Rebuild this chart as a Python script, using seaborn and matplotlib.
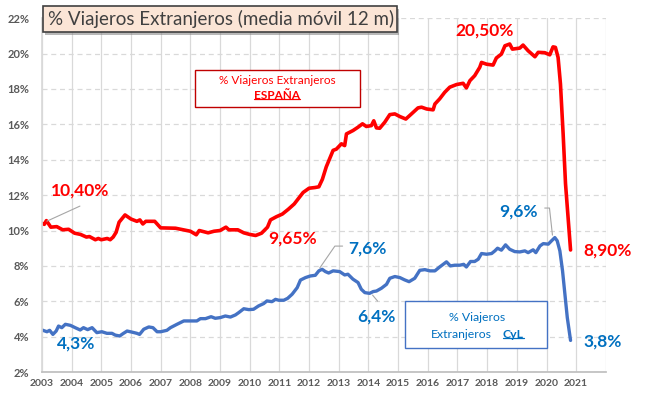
import matplotlib
matplotlib.use("Agg")
import matplotlib.pyplot as plt
from matplotlib.patches import Rectangle
from matplotlib.lines import Line2D
import seaborn as sns

# Spain (% foreign travellers, 12 month moving average)
esp_t = [2003.0, 2003.08, 2003.15, 2003.3, 2003.5, 2003.7, 2003.9, 2004.1, 2004.3, 2004.5,
         2004.6, 2004.8, 2004.9, 2005.0, 2005.2, 2005.3, 2005.4, 2005.5, 2005.6, 2005.8,
         2006.0, 2006.2, 2006.3, 2006.4, 2006.5, 2006.8, 2007.0, 2007.5, 2008.0, 2008.2,
         2008.3, 2008.6, 2008.8, 2009.0, 2009.2, 2009.3, 2009.6, 2009.8, 2010.0, 2010.2,
         2010.4, 2010.6, 2010.7, 2010.9, 2011.1, 2011.3, 2011.5, 2011.8, 2012.0, 2012.2,
         2012.33, 2012.45, 2012.58, 2012.81, 2012.92, 2013.09, 2013.2, 2013.26, 2013.48, 2013.65,
         2013.8, 2013.93, 2014.1, 2014.18, 2014.27, 2014.38, 2014.55, 2014.72, 2014.89, 2015.06,
         2015.26, 2015.45, 2015.67, 2015.79, 2015.96, 2016.18, 2016.24, 2016.4, 2016.57, 2016.74,
         2016.97, 2017.19, 2017.3, 2017.42, 2017.58, 2017.75, 2017.81, 2017.98, 2018.2, 2018.31,
         2018.48, 2018.6, 2018.76, 2018.85, 2019.1, 2019.21, 2019.38, 2019.61, 2019.72, 2019.94,
         2020.11, 2020.22, 2020.3, 2020.39, 2020.47, 2020.56, 2020.64, 2020.81]
esp_v = [10.41, 10.35, 10.56, 10.19, 10.22, 10.04, 10.07, 9.85, 9.78, 9.63,
         9.66, 9.48, 9.55, 9.48, 9.55, 9.48, 9.63, 9.9, 10.47, 10.88,
         10.65, 10.52, 10.6, 10.37, 10.52, 10.52, 10.15, 10.13, 9.96, 9.76,
         10.0, 9.87, 9.96, 10.0, 10.19, 10.04, 10.04, 9.87, 9.78, 9.72,
         9.85, 10.19, 10.6, 10.78, 10.93, 11.2, 11.5, 12.15, 12.39, 12.43,
         12.47, 12.9, 13.6, 14.53, 14.6, 14.9, 14.8, 15.46, 15.65, 15.84,
         16.03, 15.88, 15.93, 16.2, 15.8, 15.78, 16.12, 16.55, 16.59, 16.44,
         16.3, 16.59, 16.93, 16.97, 16.87, 16.82, 17.15, 17.44, 17.81, 18.1,
         18.25, 18.32, 18.06, 18.47, 18.75, 19.22, 19.5, 19.4, 19.35, 19.75,
         19.97, 20.44, 20.54, 20.25, 20.31, 20.48, 20.16, 19.82, 20.07, 20.05,
         19.93, 20.38, 20.35, 19.78, 18.28, 15.46, 12.65, 8.9]

# Castilla y León
cyl_t = [2003.0, 2003.17, 2003.26, 2003.37, 2003.48, 2003.56, 2003.67, 2003.79, 2003.96, 2004.12,
         2004.29, 2004.4, 2004.54, 2004.69, 2004.85, 2005.02, 2005.19, 2005.36, 2005.47, 2005.62,
         2005.73, 2005.87, 2006.03, 2006.2, 2006.29, 2006.43, 2006.6, 2006.74, 2006.88, 2007.0,
         2007.21, 2007.33, 2007.55, 2007.78, 2008.0, 2008.22, 2008.34, 2008.51, 2008.7, 2008.84,
         2009.01, 2009.18, 2009.35, 2009.52, 2009.63, 2009.8, 2009.97, 2010.13, 2010.3, 2010.47,
         2010.58, 2010.75, 2010.87, 2010.98, 2011.15, 2011.28, 2011.43, 2011.6, 2011.71, 2011.88,
         2012.04, 2012.21, 2012.33, 2012.44, 2012.55, 2012.66, 2012.81, 2013.03, 2013.2, 2013.31,
         2013.48, 2013.65, 2013.76, 2013.88, 2014.04, 2014.16, 2014.27, 2014.44, 2014.61, 2014.72,
         2014.89, 2015.06, 2015.22, 2015.37, 2015.56, 2015.73, 2015.9, 2016.07, 2016.24, 2016.4,
         2016.52, 2016.63, 2016.76, 2016.91, 2017.08, 2017.21, 2017.3, 2017.44, 2017.58, 2017.7,
         2017.81, 2017.98, 2018.15, 2018.26, 2018.35, 2018.48, 2018.62, 2018.76, 2018.93, 2019.1,
         2019.27, 2019.38, 2019.55, 2019.64, 2019.78, 2019.89, 2020.06, 2020.17, 2020.28, 2020.36,
         2020.45, 2020.54, 2020.62, 2020.7, 2020.81]
cyl_v = [4.38, 4.28, 4.36, 4.13, 4.32, 4.6, 4.51, 4.7, 4.64, 4.51,
         4.38, 4.51, 4.4, 4.51, 4.23, 4.28, 4.19, 4.19, 4.09, 4.04,
         4.17, 4.32, 4.26, 4.19, 4.13, 4.42, 4.55, 4.51, 4.28, 4.28,
         4.36, 4.51, 4.7, 4.89, 4.89, 4.89, 5.02, 5.02, 5.13, 5.04,
         5.08, 5.17, 5.11, 5.23, 5.36, 5.58, 5.53, 5.55, 5.74, 5.87,
         6.02, 5.98, 6.11, 6.06, 6.06, 6.17, 6.4, 6.77, 7.2, 7.34,
         7.43, 7.47, 7.72, 7.81, 7.68, 7.6, 7.72, 7.68, 7.49, 7.53,
         7.25, 7.06, 6.68, 6.49, 6.45, 6.55, 6.58, 6.74, 6.96, 7.3,
         7.4, 7.34, 7.21, 7.11, 7.3, 7.75, 7.79, 7.72, 7.72, 7.94,
         8.09, 8.23, 8.0, 8.04, 8.04, 8.09, 7.94, 8.25, 8.25, 8.38,
         8.7, 8.66, 8.7, 8.85, 9.0, 8.89, 9.19, 8.94, 8.81, 8.79,
         8.85, 8.75, 8.91, 8.75, 9.13, 9.26, 9.23, 9.42, 9.6, 9.42,
         8.85, 7.72, 6.4, 5.08, 3.79]

years = list(range(2003, 2023))
year_labels = [str(y) for y in years[:-1]] + [""]
pct_ticks = list(range(2, 23, 2))
pct_labels = [f"{v}%" for v in pct_ticks]

RED = "#FF0000"
BLUE_LINE = "#4472C4"
BLUE_TXT = "#0070C0"

sns.set_theme(style="white")
plt.rcParams["font.family"] = ["Lato", "DejaVu Sans"]

fig, ax = plt.subplots(figsize=(6.55, 4.04), dpi=100)
fig.subplots_adjust(left=0.064, right=0.925, bottom=0.079, top=0.955)

sns.lineplot(x=esp_t, y=esp_v, ax=ax, color=RED, lw=2.6, estimator=None, sort=False)
sns.lineplot(x=cyl_t, y=cyl_v, ax=ax, color=BLUE_LINE, lw=2.4, estimator=None, sort=False)

ax.set_xlim(2003, 2022)
ax.set_ylim(2, 22)
ax.set_xticks(years)
ax.set_xticklabels(year_labels)
ax.set_yticks(pct_ticks)
ax.set_yticklabels(pct_labels)
ax.grid(axis="x", color="#D9D9D9", lw=0.9)
ax.grid(axis="y", color="#D9D9D9", lw=0.9, ls=(0, (4, 3)))
ax.set_axisbelow(True)

for s in ["top", "right"]:
    ax.spines[s].set_visible(False)
ax.spines["bottom"].set_color("#BFBFBF")
ax.spines["left"].set_color("#D9D9D9")
ax.tick_params(axis="x", length=3, color="#BFBFBF", pad=2, labelsize=7.5, labelcolor="#595959")
ax.tick_params(axis="y", length=0, pad=9, labelsize=8, labelcolor="#595959")
for lab in ax.get_xticklabels() + ax.get_yticklabels():
    lab.set_fontweight("bold")

# value labels
big = dict(fontsize=12.5, fontweight="bold", ha="center", va="center", clip_on=False)
ax.text(2004.28, 12.28, "10,40%", color=RED, **big)
ax.text(2011.45, 9.57, "9,65%", color=RED, **big)
ax.text(2017.92, 21.32, "20,50%", color=RED, **big)
ax.text(2022.06, 8.89, "8,90%", color=RED, **big)
ax.text(2004.14, 3.64, "4,3%", color=BLUE_TXT, **big)
ax.text(2013.98, 9.0, "7,6%", color=BLUE_TXT, **big)
ax.text(2014.28, 5.16, "6,4%", color=BLUE_TXT, **big)
ax.text(2019.06, 11.1, "9,6%", color=BLUE_TXT, **big)
ax.text(2021.89, 3.75, "3,8%", color=BLUE_TXT, **big)

# leader lines
lead = dict(color="#A6A6A6", lw=0.8)
ax.plot([2003.17, 2004.28], [10.53, 11.38], **lead)
ax.plot([2012.36, 2012.87, 2013.13], [7.88, 9.12, 9.12], **lead)
ax.plot([2014.14, 2014.31], [6.35, 6.01], **lead)
ax.plot([2019.94, 2020.1, 2020.2], [11.27, 11.27, 9.74], **lead)

# series boxes
ax.add_patch(Rectangle((0.271, 0.749), 0.293, 0.104, transform=ax.transAxes,
                       fc="white", ec="#C00000", lw=1.0, zorder=5))
ax.text(0.417, 0.825, "% Viajeros Extranjeros", transform=ax.transAxes, color=RED,
        fontsize=8.5, ha="center", va="center", zorder=6)
esp_lab = ax.text(0.417, 0.782, "ESPAÑA", transform=ax.transAxes, color=RED,
                  fontsize=8.5, fontweight="bold", ha="center", va="center", zorder=6)

ax.add_patch(Rectangle((0.644, 0.068), 0.251, 0.133, transform=ax.transAxes,
                       fc="white", ec=BLUE_LINE, lw=1.0, zorder=5))
ax.text(0.771, 0.155, "% Viajeros", transform=ax.transAxes, color=BLUE_TXT,
        fontsize=8.8, ha="center", va="center", zorder=6)
ax.text(0.798, 0.105, "Extranjeros", transform=ax.transAxes, color=BLUE_TXT,
        fontsize=8.8, ha="right", va="center", zorder=6)
cyl_lab = ax.text(0.817, 0.105, "CyL", transform=ax.transAxes, color=BLUE_TXT,
                  fontsize=8.8, fontweight="bold", ha="left", va="center", zorder=6)

# title box with shadow
fig.patches.append(Rectangle((0.0686, 0.9135), 0.541, 0.064, transform=fig.transFigure,
                             fc="#7F7F7F", ec="none", alpha=0.55, zorder=8))
fig.patches.append(Rectangle((0.0656, 0.9208), 0.541, 0.064, transform=fig.transFigure,
                             fc="#FBE5D6", ec="#404040", lw=1.2, zorder=9))
fig.text(0.0733, 0.953, "% Viajeros Extranjeros (media móvil 12 m)", color="#404040",
         fontsize=13.5, ha="left", va="center", zorder=10)

# underline the bold words
fig.canvas.draw()
rend = fig.canvas.get_renderer()
inv = fig.transFigure.inverted()
for t, c in [(esp_lab, RED), (cyl_lab, BLUE_TXT)]:
    bb = t.get_window_extent(rend)
    (x0, y0), (x1, _) = inv.transform([(bb.x0, bb.y0 + 2), (bb.x1, bb.y0 + 2)])
    fig.add_artist(Line2D([x0, x1], [y0, y0], color=c, lw=0.9, zorder=7))

fig.savefig("out.png", dpi=100)
